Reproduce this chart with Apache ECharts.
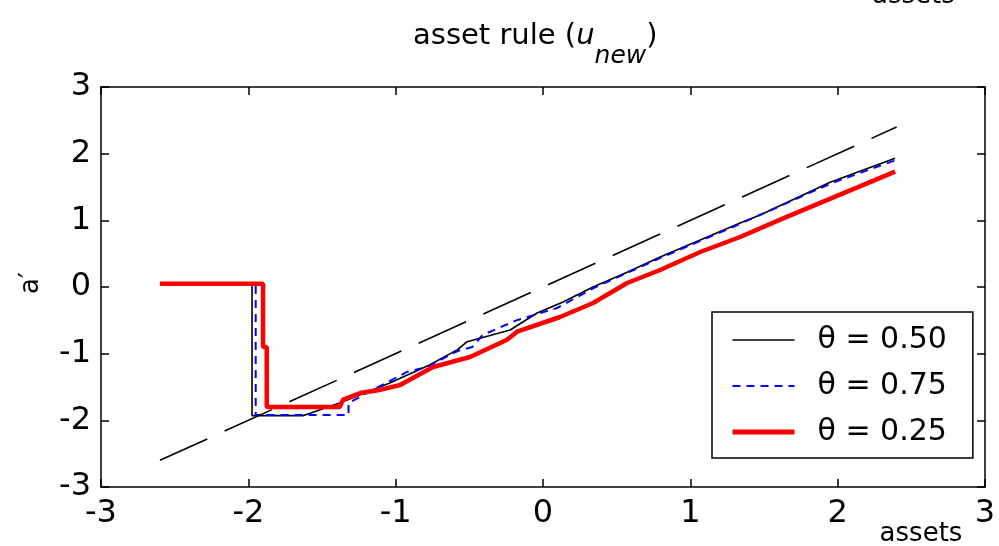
<!DOCTYPE html>
<html><head><meta charset="utf-8">
<script src="https://cdn.jsdelivr.net/npm/echarts@6/dist/echarts.min.js"></script>
<style>html,body{margin:0;padding:0;background:#fff}#c{width:999px;height:546px}</style>
</head><body><div id="c"></div>
<script>
const FONT = 'DejaVu Sans';
const xTickValues = [-3, -2, -1, 0, 1, 2, 3];
const yTickValues = [-3, -2, -1, 0, 1, 2, 3];
const seriesNames = ['θ = 0.50', 'θ = 0.75', 'θ = 0.25'];

const blackX = [-2.6, -1.975, -1.975, -1.63, -1.38, -1.04, -0.77, -0.58, -0.515, -0.223, -0.04, 0.136, 0.34, 0.571, 0.795, 1.067, 1.338, 1.474, 1.949, 2.39];
const blackY = [0.05, 0.05, -1.93, -1.93, -1.74, -1.44, -1.17, -0.94, -0.82, -0.645, -0.39, -0.225, 0.0, 0.22, 0.45, 0.705, 0.96, 1.08, 1.57, 1.93];

const blueX = [-2.6, -1.95, -1.95, -1.32, -1.32, -1.126, -0.92, -0.787, -0.58, -0.48, -0.41, -0.18, 0.096, 0.34, 0.8, 1.34, 1.95, 2.39];
const blueY = [0.05, 0.05, -1.92, -1.92, -1.74, -1.51, -1.27, -1.2, -0.96, -0.9, -0.72, -0.5, -0.315, -0.02, 0.44, 0.95, 1.55, 1.9];

const redX = [-2.6, -1.9, -1.9, -1.875, -1.875, -1.38, -1.357, -1.24, -1.1, -0.97, -0.746, -0.495, -0.244, -0.176, 0.116, 0.34, 0.571, 0.795, 1.067, 1.338, 1.63, 2.39];
const redY = [0.05, 0.05, -0.9, -0.9, -1.8, -1.8, -1.69, -1.59, -1.54, -1.47, -1.2, -1.05, -0.79, -0.67, -0.45, -0.24, 0.06, 0.255, 0.525, 0.75, 1.03, 1.73];

const diagX = [-2.6, 2.4];
const diagY = [-2.6, 2.4];

function zip(xs, ys) { return xs.map((x, i) => [x, ys[i]]); }

const xMin = xTickValues[0], xMax = xTickValues[xTickValues.length - 1];
const yMin = yTickValues[0], yMax = yTickValues[yTickValues.length - 1];

const chart = echarts.init(document.getElementById('c'), null, { renderer: 'canvas' });

const axisLineStyle = { color: '#000', width: 1.5 };
function mkX(pos, labels) {
  return {
    type: 'value', position: pos, min: xMin, max: xMax, interval: 1,
    axisLine: { show: true, onZero: false, lineStyle: axisLineStyle },
    axisTick: { show: true, inside: true, length: 8, lineStyle: axisLineStyle },
    axisLabel: { show: labels, color: '#000', fontFamily: FONT, fontSize: 32, margin: 11 },
    splitLine: { show: false }
  };
}
function mkY(pos, labels) {
  return {
    type: 'value', position: pos, min: yMin, max: yMax, interval: 1,
    axisLine: { show: true, onZero: false, lineStyle: axisLineStyle },
    axisTick: { show: true, inside: true, length: 8, lineStyle: axisLineStyle },
    axisLabel: { show: labels, color: '#000', fontFamily: FONT, fontSize: 32, margin: 10 },
    splitLine: { show: false }
  };
}

const lineWidths = [1.6, 2, 5];
const lineColors = ['#000', '#0000ff', '#ff0000'];
const lineTypes = ['solid', [8, 6], 'solid'];

const option = {
  backgroundColor: '#fff',
  animation: false,
  title: {
    text: '{a|asset rule (}{u|u}{s|new}{a|)}',
    left: 413, top: 4, padding: 0,
    textStyle: {
      fontWeight: 'normal',
      rich: {
        a: { fontFamily: FONT, fontSize: 29, fontWeight: 'normal', color: '#000' },
        u: { fontFamily: FONT, fontSize: 29, fontWeight: 'normal', fontStyle: 'italic', color: '#000' },
        s: { fontFamily: FONT, fontSize: 25, fontWeight: 'normal', fontStyle: 'italic', color: '#000', padding: [40, 0, 0, 0] }
      }
    }
  },
  grid: { left: 101, right: 14, top: 87, bottom: 59, containLabel: false, outerBoundsMode: 'none' },
  xAxis: [mkX('bottom', true), mkX('top', false)],
  yAxis: [mkY('left', true), mkY('right', false)],
  legend: {
    data: seriesNames.map((n, i) => ({ name: n, lineStyle: { width: lineWidths[i], color: lineColors[i], type: lineTypes[i] } })),
    orient: 'vertical',
    left: 712, top: 312,
    padding: [13, 26, 11, 18],
    itemWidth: 62, itemHeight: 14, itemGap: 16,
    borderColor: '#000', borderWidth: 1.5, backgroundColor: '#fff',
    selectedMode: false,
    itemStyle: { opacity: 0 },
    textStyle: { fontFamily: FONT, fontSize: 30, color: '#000', lineHeight: 30, padding: [0, 0, 0, 18] }
  },
  graphic: [
    { type: 'text', x: 872, y: -4, style: { text: 'assets', font: '26px "DejaVu Sans"', fill: '#000', textAlign: 'left', textVerticalAlign: 'middle' } },
    { type: 'text', x: 921, y: 534, style: { text: 'assets', font: '26px "DejaVu Sans"', fill: '#000', textAlign: 'center', textVerticalAlign: 'middle' } },
    { type: 'text', x: 31, y: 283, rotation: Math.PI / 2, style: { text: 'a′', font: '26px "DejaVu Sans"', fill: '#000', textAlign: 'center', textVerticalAlign: 'middle' } }
  ],
  series: [
    { name: seriesNames[0], type: 'line', data: zip(blackX, blackY), showSymbol: false, symbol: 'none',
      lineStyle: { color: lineColors[0], width: lineWidths[0], type: lineTypes[0] }, itemStyle: { color: lineColors[0] }, z: 2 },
    { name: seriesNames[1], type: 'line', data: zip(blueX, blueY), showSymbol: false, symbol: 'none',
      lineStyle: { color: lineColors[1], width: lineWidths[1], type: lineTypes[1] }, itemStyle: { color: lineColors[1] }, z: 3 },
    { name: seriesNames[2], type: 'line', data: zip(redX, redY), showSymbol: false, symbol: 'none',
      lineStyle: { color: lineColors[2], width: 4.5, type: lineTypes[2] }, itemStyle: { color: lineColors[2] }, z: 4 },
    { name: 'diag', type: 'line', data: zip(diagX, diagY), showSymbol: false, symbol: 'none',
      lineStyle: { color: '#000', width: 1.6, type: [52, 19] }, itemStyle: { color: '#000' }, z: 5 }
  ]
};
chart.setOption(option);
</script>
</body></html>
